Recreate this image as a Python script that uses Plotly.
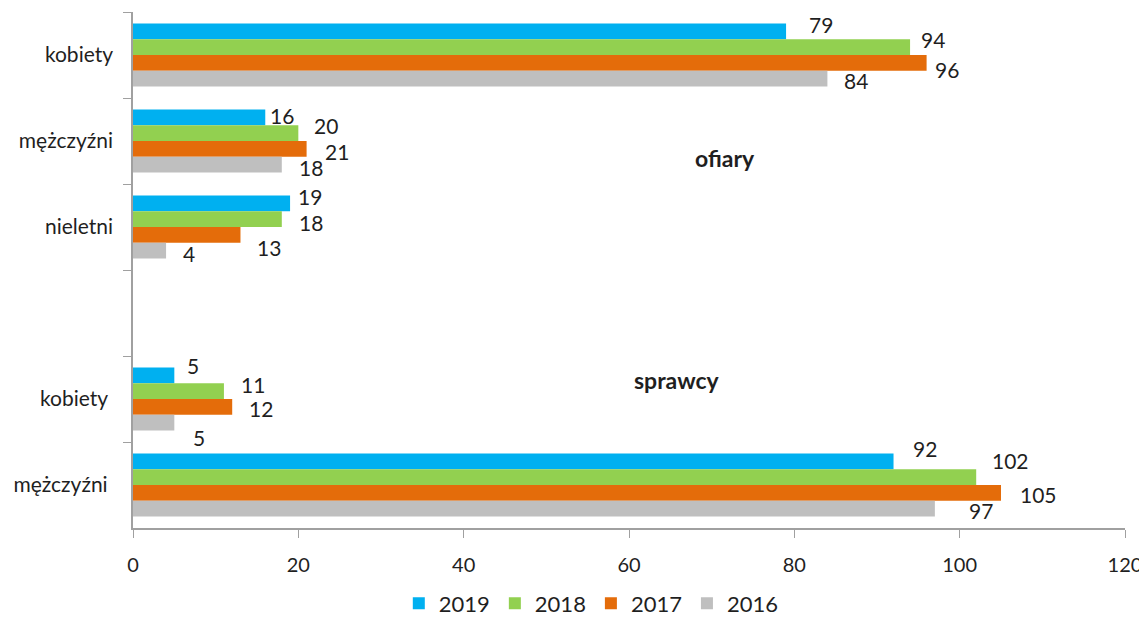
import plotly.graph_objects as go

categories = ["kobiety", "mężczyźni", "nieletni", " ", "kobiety ", "mężczyźni "]
years = ["2019", "2018", "2017", "2016"]
v2019 = [79, 16, 19, None, 5, 92]
v2018 = [94, 20, 18, None, 11, 102]
v2017 = [96, 21, 13, None, 12, 105]
v2016 = [84, 18, 4, None, 5, 97]
series = [v2019, v2018, v2017, v2016]
colors = ["#00B0F0", "#92D050", "#E46C0A", "#BFBFBF"]

# label nudges (pixels) from the bar end, per series / category (style only)
label_dx = [[35, 17, 20, 0, 19, 31],
            [23, 28, 29, 0, 29, 34],
            [20, 30, 29, 0, 29, 37],
            [29, 29, 23, 0, 25, 46]]
label_dy = [[-7, -2, -7, 0, -10, -13],
            [-8, -8, 3, 0, -7, -17],
            [7, 3, 13, 0, 2, 2],
            [2, 3, 3, 0, 15, 2]]

FONT = "Lato, Open Sans, sans-serif"
BARGAP = 0.27
TXT = "#1F1F1F"

fig = go.Figure()
for name, vals, col in zip(years, series, colors):
    fig.add_trace(go.Bar(
        y=categories, x=vals, name=name, orientation="h",
        marker=dict(color=col, line=dict(width=0)),
    ))

n = len(series)
bw = (1 - BARGAP) / n
for k, vals in enumerate(series):
    for i, v in enumerate(vals):
        if v is None:
            continue
        fig.add_annotation(
            x=v, y=i + (k - (n - 1) / 2) * bw, text=str(v), showarrow=False,
            xanchor="center", yanchor="middle",
            xshift=label_dx[k][i], yshift=-label_dy[k][i],
            font=dict(size=21, color=TXT, family=FONT),
        )

fig.update_layout(
    barmode="group", bargap=BARGAP, bargroupgap=0,
    width=1139, height=640,
    margin=dict(l=125, r=22, t=4, b=120),
    plot_bgcolor="white", paper_bgcolor="white",
    font=dict(family=FONT, size=20, color=TXT),
    legend=dict(orientation="h", x=0.462, xanchor="center", y=-0.146, yanchor="middle",
                font=dict(size=22), traceorder="normal", itemwidth=30),
    showlegend=True,
)
fig.update_xaxes(range=[0, 120], dtick=20, showgrid=False, zeroline=False,
                 showline=True, linecolor="#A0A0A0", linewidth=1.5,
                 ticks="outside", ticklen=8, tickcolor="#A0A0A0",
                 tickfont=dict(size=20), automargin=False, ticklabelstandoff=10)
fig.update_yaxes(type="category", categoryorder="array", categoryarray=categories,
                 autorange="reversed", tickson="boundaries", showgrid=False,
                 showline=True, linecolor="#A0A0A0", linewidth=1.5,
                 ticks="outside", ticklen=8, tickcolor="#A0A0A0",
                 tickfont=dict(size=21), automargin=False, ticklabelstandoff=14)

fig.add_annotation(x=71.6, y=1.2, text="<b>ofiary</b>", showarrow=False,
                   font=dict(size=23, color=TXT, family=FONT))
fig.add_annotation(x=65.8, y=3.78, text="<b>sprawcy</b>", showarrow=False,
                   font=dict(size=23, color=TXT, family=FONT))

fig.write_html("out.html")
